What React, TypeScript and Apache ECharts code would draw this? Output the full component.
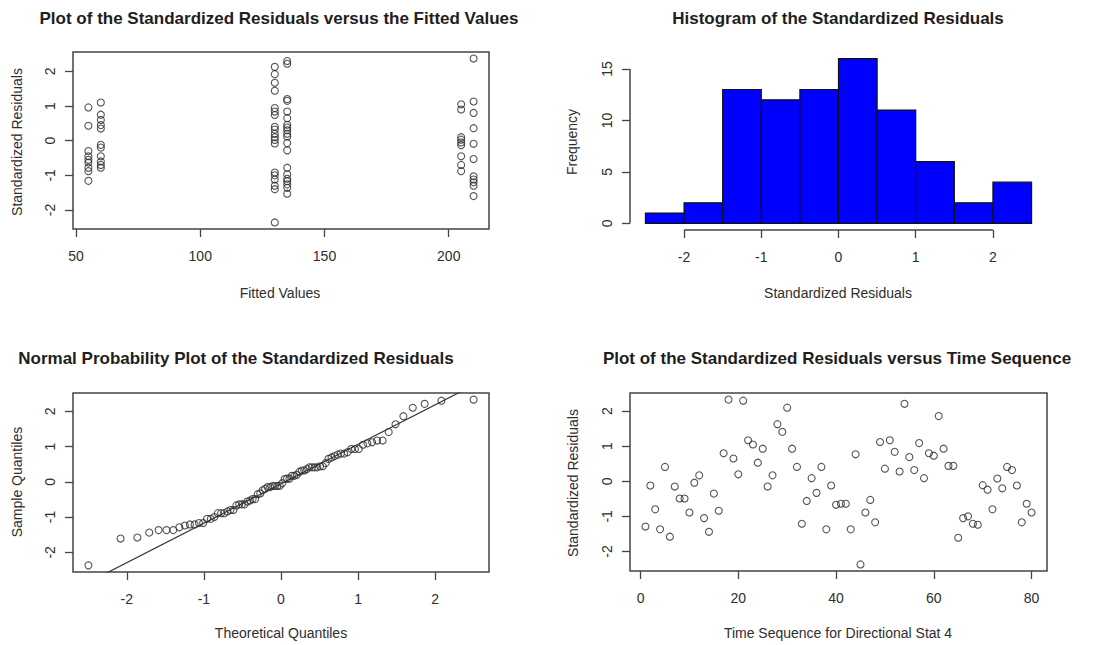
import React, { useEffect, useRef } from "react";
import * as echarts from "echarts";

// ---------- data ----------
const fittedLevels = [55, 60, 130, 135, 205, 210];
const residAt55 = [0.96, 0.43, -0.3, -0.45, -0.55, -0.63, -0.78, -0.88, -1.16];
const residAt60 = [1.1, 0.75, 0.6, 0.45, 0.35, -0.12, -0.2, -0.45, -0.6, -0.7, -0.78];
const residAt130 = [2.13, 1.92, 1.67, 1.44, 0.94, 0.84, 0.74, 0.4, 0.32, 0.2, 0.1, 0.02, -0.08, -0.92, -1.0, -1.12, -1.3, -1.4, -2.36];
const residAt135 = [2.3, 2.22, 1.2, 1.15, 0.84, 0.65, 0.46, 0.38, 0.3, 0.2, 0.12, -0.07, -0.28, -0.78, -0.97, -1.1, -1.17, -1.26, -1.36, -1.53];
const residAt205 = [1.05, 0.9, 0.1, 0.03, -0.05, -0.13, -0.45, -0.7, -0.88];
const residAt210 = [2.37, 1.13, 0.8, 0.36, -0.09, -0.53, -1.03, -1.12, -1.2, -1.3, -1.6];

const timeResiduals = [
  -1.29, -0.12, -0.8, -1.37, 0.41, -1.58, -0.15, -0.49, -0.49, -0.89,
  -0.04, 0.17, -1.05, -1.44, -0.35, -0.84, 0.8, 2.33, 0.65, 0.2,
  2.3, 1.17, 1.05, 0.53, 0.93, -0.15, 0.17, 1.63, 1.41, 2.1,
  0.93, 0.41, -1.21, -0.56, 0.09, -0.33, 0.41, -1.37, -0.12, -0.67,
  -0.64, -0.64, -1.37, 0.77, -2.37, -0.89, -0.53, -1.17, 1.12, 0.36,
  1.17, 0.84, 0.28, 2.21, 0.69, 0.32, 1.09, 0.09, 0.8, 0.73,
  1.86, 0.93, 0.44, 0.44, -1.61, -1.05, -1.0, -1.21, -1.24, -0.11,
  -0.24, -0.8, 0.08, -0.2, 0.41, 0.32, -0.12, -1.17, -0.64, -0.89,
];

const histBreaks = [-2.5, -2, -1.5, -1, -0.5, 0, 0.5, 1, 1.5, 2, 2.5];
const histCounts = [1, 2, 13, 12, 13, 16, 11, 6, 2, 4];

const fittedTicks = [50, 100, 150, 200];
const residTicks = [-2, -1, 0, 1, 2];
const histXTicks = [-2, -1, 0, 1, 2];
const histYTicks = [0, 5, 10, 15];
const qqXTicks = [-2, -1, 0, 1, 2];
const timeTicks = [0, 20, 40, 60, 80];

const titles = [
  "Plot of the Standardized Residuals versus the Fitted Values",
  "Histogram of the Standardized Residuals",
  "Normal Probability Plot of the Standardized Residuals",
  "Plot of the Standardized Residuals versus Time Sequence",
];
const xTitles = ["Fitted Values", "Standardized Residuals", "Theoretical Quantiles", "Time Sequence for Directional Stat 4"];
const yTitles = ["Standardized Residuals", "Frequency", "Sample Quantiles", "Standardized Residuals"];

// ---------- helpers ----------
function qnorm(p: number): number {
  const a = [-3.969683028665376e1, 2.209460984245205e2, -2.759285104469687e2, 1.38357751867269e2, -3.066479806614716e1, 2.506628277459239];
  const b = [-5.447609879822406e1, 1.615858368580409e2, -1.556989798598866e2, 6.680131188771972e1, -1.328068155288572e1];
  const c = [-7.784894002430293e-3, -3.223964580411365e-1, -2.400758277161838, -2.549732539343734, 4.374664141464968, 2.938163982698783];
  const d = [7.784695709041462e-3, 3.224671290700398e-1, 2.445134137142996, 3.754408661907416];
  const plow = 0.02425;
  if (p < plow) {
    const q = Math.sqrt(-2 * Math.log(p));
    return (((((c[0] * q + c[1]) * q + c[2]) * q + c[3]) * q + c[4]) * q + c[5]) / ((((d[0] * q + d[1]) * q + d[2]) * q + d[3]) * q + 1);
  }
  if (p <= 1 - plow) {
    const q = p - 0.5, r = q * q;
    return ((((((a[0] * r + a[1]) * r + a[2]) * r + a[3]) * r + a[4]) * r + a[5]) * q) / (((((b[0] * r + b[1]) * r + b[2]) * r + b[3]) * r + b[4]) * r + 1);
  }
  const q = Math.sqrt(-2 * Math.log(1 - p));
  return -(((((c[0] * q + c[1]) * q + c[2]) * q + c[3]) * q + c[4]) * q + c[5]) / ((((d[0] * q + d[1]) * q + d[2]) * q + d[3]) * q + 1);
}
function quantile7(sorted: number[], p: number) {
  const h = (sorted.length - 1) * p;
  const lo = Math.floor(h);
  const hi = Math.min(lo + 1, sorted.length - 1);
  return sorted[lo] + (h - lo) * (sorted[hi] - sorted[lo]);
}
function padRange(vals: number[]) {
  const mn = Math.min(...vals), mx = Math.max(...vals);
  const p = (mx - mn) * 0.04;
  return [mn - p, mx + p];
}

export default function App() {
  const ref = useRef<HTMLDivElement>(null);
  useEffect(() => {
    if (!ref.current) return;
    const chart = echarts.init(ref.current, undefined, { renderer: "svg" });

    const groups = [residAt55, residAt60, residAt130, residAt135, residAt205, residAt210];
    const fittedPts: number[][] = [];
    groups.forEach((g, i) => g.forEach((v) => fittedPts.push([fittedLevels[i], v])));
    const [fx0, fx1] = padRange(fittedLevels);
    const [fy0, fy1] = padRange(fittedPts.map((p) => p[1]));

    const n = timeResiduals.length;
    const sorted = [...timeResiduals].sort((x, y) => x - y);
    const qqPts = sorted.map((v, i) => [qnorm((i + 1 - 0.5) / n), v]);
    const [qx0, qx1] = padRange(qqPts.map((p) => p[0]));
    const [qy0, qy1] = padRange(sorted);
    const q1 = quantile7(sorted, 0.25), q3 = quantile7(sorted, 0.75);
    const slope = (q3 - q1) / (qnorm(0.75) - qnorm(0.25));
    const icpt = q1 - slope * qnorm(0.25);
    const qqLine = [[qx0, icpt + slope * qx0], [qx1, icpt + slope * qx1]];

    const timePts = timeResiduals.map((v, i) => [i + 1, v]);
    const [tx0, tx1] = padRange(timePts.map((p) => p[0]));

    const [hx0, hx1] = padRange(histBreaks);
    const [hy0, hy1] = padRange([0, Math.max(...histCounts)]);
    const histData = histCounts.map((c, i) => [histBreaks[i], histBreaks[i + 1], c]);

    const FONT = "Liberation Sans";
    const axisCol = "#444";
    const txtCol = "#2e2e2e";

    const xAxis = (gi: number, min: number, max: number, ticks: number[]) => ({
      type: "value", gridIndex: gi, min, max, position: "bottom",
      axisLine: { show: false, onZero: false }, splitLine: { show: false },
      axisTick: { show: true, customValues: ticks, length: 8, lineStyle: { color: axisCol, width: 1.3 } },
      axisLabel: { customValues: ticks, color: txtCol, fontSize: 14, fontFamily: FONT, margin: 20 },
    });
    const yAxis = (gi: number, min: number, max: number, ticks: number[]) => ({
      type: "value", gridIndex: gi, min, max, position: "left",
      axisLine: { show: false, onZero: false }, splitLine: { show: false },
      axisTick: { show: true, customValues: ticks, length: 8, lineStyle: { color: axisCol, width: 1.3 } },
      axisLabel: { customValues: ticks, color: txtCol, fontSize: 14, fontFamily: FONT, margin: 16, rotate: 90 },
    });

    const scatterStyle = {
      type: "scatter", symbol: "circle", symbolSize: 7,
      itemStyle: { color: "rgba(0,0,0,0)", borderColor: "#2a2a2a", borderWidth: 1.1 },
      emphasis: { disabled: true },
    };

    const titlePos = [[279, 18], [838, 18], [236, 358], [837, 358]];
    const xTitlePos = [[280, 293], [838, 293], [281, 633], [838, 633]];
    const yTitlePos = [[17, 142], [572, 142], [17, 482], [573, 483]];

    const graphic: any[] = [];
    titles.forEach((t, i) => graphic.push({
      type: "text", x: titlePos[i][0], y: titlePos[i][1],
      style: { text: t, font: `bold 17px "${FONT}"`, fill: "#1e1e1e", textAlign: "center", textVerticalAlign: "middle" },
    }));
    xTitles.forEach((t, i) => graphic.push({
      type: "text", x: xTitlePos[i][0], y: xTitlePos[i][1],
      style: { text: t, font: `14px "${FONT}"`, fill: txtCol, textAlign: "center", textVerticalAlign: "middle" },
    }));
    yTitles.forEach((t, i) => graphic.push({
      type: "text", x: yTitlePos[i][0], y: yTitlePos[i][1], rotation: Math.PI / 2,
      style: { text: t, font: `14px "${FONT}"`, fill: txtCol, textAlign: "center", textVerticalAlign: "middle" },
    }));

    const box = { show: true, borderColor: axisCol, borderWidth: 1.5, backgroundColor: "transparent" };

    chart.setOption({
      animation: false,
      backgroundColor: "#fff",
      grid: [
        { left: 73, top: 52, width: 416, height: 177, ...box },
        { left: 630, top: 52, width: 417, height: 178, show: false },
        { left: 73, top: 393, width: 416, height: 179, ...box },
        { left: 630, top: 393, width: 417, height: 178, ...box },
      ],
      xAxis: [
        xAxis(0, fx0, fx1, fittedTicks),
        xAxis(1, hx0, hx1, histXTicks),
        xAxis(2, qx0, qx1, qqXTicks),
        xAxis(3, tx0, tx1, timeTicks),
      ],
      yAxis: [
        yAxis(0, fy0, fy1, residTicks),
        yAxis(1, hy0, hy1, histYTicks),
        yAxis(2, qy0, qy1, residTicks),
        yAxis(3, qy0, qy1, residTicks),
      ],
      graphic,
      series: [
        { ...scatterStyle, xAxisIndex: 0, yAxisIndex: 0, data: fittedPts },
        {
          type: "custom", xAxisIndex: 1, yAxisIndex: 1, data: histData,
          renderItem: (params: any, api: any) => {
            const p0 = api.coord([api.value(0), 0]);
            const p1 = api.coord([api.value(1), api.value(2)]);
            return {
              type: "rect",
              shape: { x: p0[0], y: p1[1], width: p1[0] - p0[0], height: p0[1] - p1[1] },
              style: { fill: "#0000ff", stroke: "#111", lineWidth: 1.2 },
            };
          },
        },
        {
          type: "line", xAxisIndex: 1, yAxisIndex: 1, clip: false, symbol: "none",
          data: [[histXTicks[0], hy0], [histXTicks[histXTicks.length - 1], hy0]],
          lineStyle: { color: axisCol, width: 1.5 },
        },
        {
          type: "line", xAxisIndex: 1, yAxisIndex: 1, clip: false, symbol: "none",
          data: [[hx0, histYTicks[0]], [hx0, histYTicks[histYTicks.length - 1]]],
          lineStyle: { color: axisCol, width: 1.5 },
        },
        { ...scatterStyle, xAxisIndex: 2, yAxisIndex: 2, data: qqPts },
        {
          type: "line", xAxisIndex: 2, yAxisIndex: 2, clip: true, symbol: "none",
          data: qqLine, lineStyle: { color: "#333", width: 1.2 },
        },
        { ...scatterStyle, xAxisIndex: 3, yAxisIndex: 3, data: timePts },
      ],
    });
    return () => chart.dispose();
  }, []);

  return (
    <div
      ref={ref}
      style={{ position: "absolute", left: 0, top: 0, width: 1119, height: 645, background: "#fff" }}
    />
  );
}
